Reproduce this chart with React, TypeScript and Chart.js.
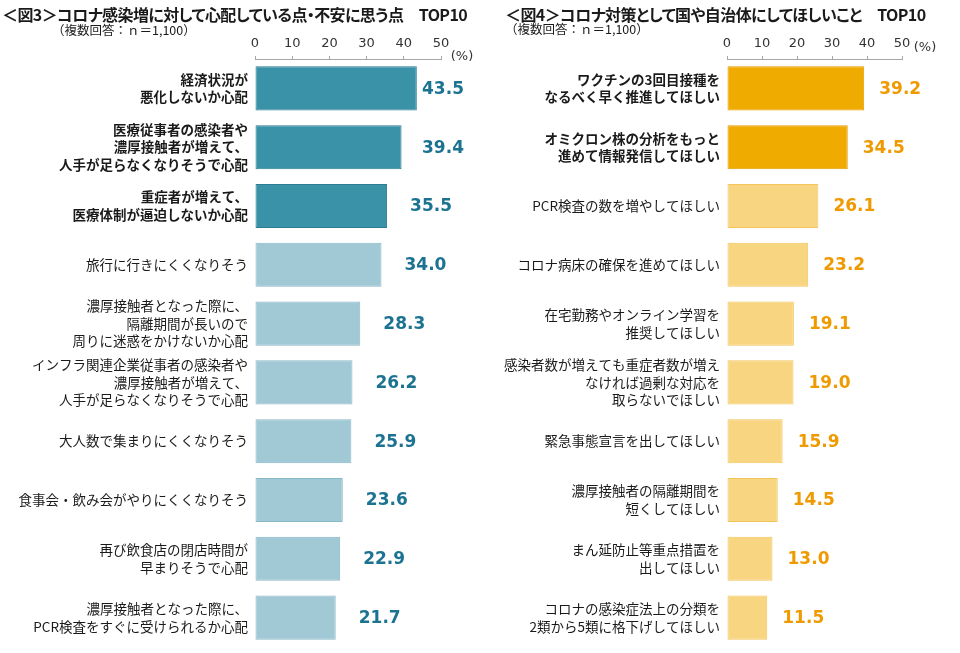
import React, { useEffect, useRef } from 'react';
import { Chart, registerables } from 'chart.js';

Chart.register(...registerables);

// ---- data ----
const concernTitle = '＜図3＞コロナ感染増に対して心配している点・不安に思う点　TOP10';
const requestTitle = '＜図4＞コロナ対策として国や自治体にしてほしいこと　TOP10';
const sampleNote = '（複数回答：ｎ＝1,100）';

const concernLabels: (string | string[])[] = [
  ['経済状況が', '悪化しないか心配'],
  ['医療従事者の感染者や', '濃厚接触者が増えて、', '人手が足らなくなりそうで心配'],
  ['重症者が増えて、', '医療体制が逼迫しないか心配'],
  '旅行に行きにくくなりそう',
  ['濃厚接触者となった際に、', '隔離期間が長いので', '周りに迷惑をかけないか心配'],
  ['インフラ関連企業従事者の感染者や', '濃厚接触者が増えて、', '人手が足らなくなりそうで心配'],
  '大人数で集まりにくくなりそう',
  '食事会・飲み会がやりにくくなりそう',
  ['再び飲食店の閉店時間が', '早まりそうで心配'],
  ['濃厚接触者となった際に、', 'PCR検査をすぐに受けられるか心配'],
];
const concernValues = [43.5, 39.4, 35.5, 34.0, 28.3, 26.2, 25.9, 23.6, 22.9, 21.7];
const concernHighlight = 3;

const requestLabels: (string | string[])[] = [
  ['ワクチンの3回目接種を', 'なるべく早く推進してほしい'],
  ['オミクロン株の分析をもっと', '進めて情報発信してほしい'],
  'PCR検査の数を増やしてほしい',
  'コロナ病床の確保を進めてほしい',
  ['在宅勤務やオンライン学習を', '推奨してほしい'],
  ['感染者数が増えても重症者数が増え', 'なければ過剰な対応を', '取らないでほしい'],
  '緊急事態宣言を出してほしい',
  ['濃厚接触者の隔離期間を', '短くしてほしい'],
  ['まん延防止等重点措置を', '出してほしい'],
  ['コロナの感染症法上の分類を', '2類から5類に格下げしてほしい'],
];
const requestValues = [39.2, 34.5, 26.1, 23.2, 19.1, 19.0, 15.9, 14.5, 13.0, 11.5];
const requestHighlight = 2;

const axisMin = 0;
const axisMax = 50;
const axisStep = 10;

const JP = '"Noto Sans CJK JP", "Noto Sans", sans-serif';
const NUM = '"DejaVu Sans", Verdana, sans-serif';

type PanelProps = {
  labels: (string | string[])[];
  values: number[];
  highlight: number;
  strong: string;
  strongBorder: string;
  light: string;
  lightBorder: string;
  valueColor: string;
  areaLeft: number;
  padRight: number;
  labelOffset: number;
  labelMax: number;
  pctDx: number;
  pctDy: number;
};

function Panel(p: PanelProps) {
  const ref = useRef<HTMLCanvasElement>(null);
  useEffect(() => {
    if (!ref.current) return;
    const valuePlugin = {
      id: 'valueLabels',
      afterDatasetsDraw(chart: any) {
        const ctx = chart.ctx;
        const meta = chart.getDatasetMeta(0);
        ctx.save();
        ctx.font = `bold 17px ${NUM}`;
        ctx.fillStyle = p.valueColor;
        ctx.textAlign = 'center';
        ctx.textBaseline = 'middle';
        meta.data.forEach((bar: any, i: number) => {
          const x = Math.min(bar.x + p.labelOffset, p.labelMax);
          ctx.fillText(p.values[i].toFixed(1), x, bar.y + 1);
        });
        ctx.restore();
      },
    };
    const pctPlugin = {
      id: 'pctUnit',
      afterDraw(chart: any) {
        const s = chart.scales.x;
        const ctx = chart.ctx;
        ctx.save();
        ctx.font = `13px ${NUM}`;
        ctx.fillStyle = '#333';
        ctx.textAlign = 'center';
        ctx.textBaseline = 'middle';
        ctx.fillText('(%)', s.right + p.pctDx, s.bottom + p.pctDy);
        ctx.restore();
      },
    };
    const chart = new Chart(ref.current, {
      type: 'bar',
      data: {
        labels: p.labels,
        datasets: [
          {
            data: p.values,
            backgroundColor: p.values.map((_, i) => (i < p.highlight ? p.strong : p.light)),
            borderColor: p.values.map((_, i) => (i < p.highlight ? p.strongBorder : p.lightBorder)),
            borderWidth: 1,
            borderSkipped: false,
            barPercentage: 0.75,
            categoryPercentage: 1,
          },
        ],
      },
      options: {
        indexAxis: 'y',
        responsive: false,
        animation: false,
        layout: { padding: { left: 0, right: p.padRight, top: 0, bottom: 6 } },
        plugins: {
          legend: { display: false },
          tooltip: { enabled: false },
          title: { display: false },
        },
        scales: {
          x: {
            position: 'top',
            min: axisMin,
            max: axisMax,
            afterFit(scale: any) {
              scale.height = 59;
              scale.paddingLeft = 0;
              scale.paddingRight = 0;
            },
            ticks: {
              stepSize: axisStep,
              padding: 5,
              color: '#333',
              font: { family: NUM, size: 13 },
            },
            grid: {
              display: true,
              drawOnChartArea: false,
              drawTicks: true,
              tickLength: 3,
              color: '#a6a6a6',
            },
            border: { display: true, color: '#a6a6a6', width: 1 },
          },
          y: {
            afterFit(scale: any) {
              scale.width = p.areaLeft;
              scale.paddingTop = 0;
              scale.paddingBottom = 0;
            },
            ticks: {
              padding: 7,
              color: '#1a1a1a',
              font: (ctx: any) => ({
                family: JP,
                size: 13.5,
                lineHeight: 1.3,
                weight: ctx.index < p.highlight ? 'bold' : 'normal',
              }),
            },
            grid: { display: false, drawTicks: false },
            border: { display: false },
          },
        },
      },
      plugins: [valuePlugin, pctPlugin],
    } as any);
    return () => chart.destroy();
  }, []);
  return <canvas ref={ref} width={480} height={653} style={{ display: 'block', width: 480, height: 653 }} />;
}

const titleStyle: React.CSSProperties = {
  position: 'absolute',
  fontFamily: JP,
  fontWeight: 'bold',
  fontSize: 16,
  letterSpacing: '-0.6px',
  lineHeight: '20px',
  color: '#1a1a1a',
  whiteSpace: 'nowrap',
  fontFeatureSettings: '"palt"',
};
const noteStyle: React.CSSProperties = {
  position: 'absolute',
  fontFamily: JP,
  fontSize: 12.5,
  lineHeight: '16px',
  color: '#1a1a1a',
  whiteSpace: 'nowrap',
};

export default function App() {
  return (
    <div style={{ position: 'absolute', left: 0, top: 0, width: 960, height: 653, background: '#fff', overflow: 'hidden' }}>
      <div style={{ position: 'absolute', left: 0, top: 0, width: 480, height: 653 }}>
        <Panel
          labels={concernLabels}
          values={concernValues}
          highlight={concernHighlight}
          strong="#3a92a8"
          strongBorder="#2c7d92"
          light="#a0c8d5"
          lightBorder="#88b9c9"
          valueColor="#1c7391"
          areaLeft={255}
          padRight={39}
          labelOffset={44}
          labelMax={443}
          pctDx={21}
          pctDy={-2}
        />
      </div>
      <div style={{ position: 'absolute', left: 480, top: 0, width: 480, height: 653 }}>
        <Panel
          labels={requestLabels}
          values={requestValues}
          highlight={requestHighlight}
          strong="#f0ab00"
          strongBorder="#e69a00"
          light="#f8d581"
          lightBorder="#f3c55c"
          valueColor="#ef9a00"
          areaLeft={247}
          padRight={58}
          labelOffset={36}
          labelMax={886}
          pctDx={23}
          pctDy={-11}
        />
      </div>
      <div style={{ ...titleStyle, left: 2, top: 4 }}>{concernTitle}</div>
      <div style={{ ...noteStyle, left: 52, top: 22 }}>{sampleNote}</div>
      <div style={{ ...titleStyle, left: 505, top: 4 }}>{requestTitle}</div>
      <div style={{ ...noteStyle, left: 505, top: 21 }}>{sampleNote}</div>
    </div>
  );
}
